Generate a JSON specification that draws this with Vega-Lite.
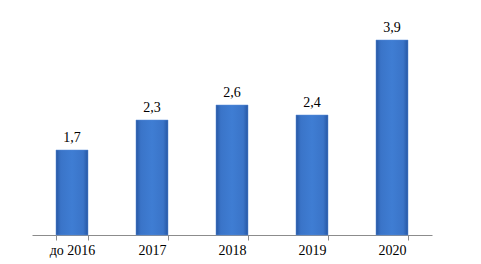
{
  "$schema": "https://vega.github.io/schema/vega-lite/v6.json",
  "width": 400,
  "height": 225,
  "autosize": {"type": "none"},
  "padding": {"left": 32, "top": 10, "right": 49, "bottom": 29},
  "background": "white",
  "config": {
    "view": {"stroke": null},
    "locale": {"number": {"decimal": ",", "thousands": " ", "grouping": [3], "currency": ["", ""]}}
  },
  "data": {
    "values": [
      {"year": "до 2016", "value": 1.7},
      {"year": "2017", "value": 2.3},
      {"year": "2018", "value": 2.6},
      {"year": "2019", "value": 2.4},
      {"year": "2020", "value": 3.9}
    ]
  },
  "encoding": {
    "x": {
      "field": "year",
      "type": "nominal",
      "sort": null,
      "scale": {"paddingInner": 0.6, "paddingOuter": 0.3},
      "axis": {
        "title": null,
        "labelAngle": 0,
        "tickBand": "extent",
        "domainColor": "#8c8c8c",
        "tickColor": "#8c8c8c",
        "tickSize": 5,
        "labelFont": "Liberation Serif",
        "labelFontSize": 14,
        "labelColor": "#000000",
        "labelPadding": 3
      }
    },
    "y": {
      "field": "value",
      "type": "quantitative",
      "scale": {"domain": [0, 4.5]},
      "axis": null
    }
  },
  "layer": [
    {
      "mark": {
        "type": "bar",
        "color": {
          "gradient": "linear",
          "x1": 0, "y1": 0, "x2": 1, "y2": 0,
          "stops": [
            {"offset": 0, "color": "#2657a3"},
            {"offset": 0.15, "color": "#3a74c8"},
            {"offset": 0.5, "color": "#3f7dd3"},
            {"offset": 0.85, "color": "#3a74c8"},
            {"offset": 1, "color": "#2657a3"}
          ]
        },
        "stroke": "#5b8fd8",
        "strokeWidth": 0.5
      }
    },
    {
      "mark": {
        "type": "text",
        "baseline": "bottom",
        "dy": -5,
        "font": "Liberation Serif",
        "fontSize": 14,
        "color": "#000000"
      },
      "encoding": {
        "text": {"field": "value", "type": "quantitative", "format": ".1f"}
      }
    }
  ]
}
